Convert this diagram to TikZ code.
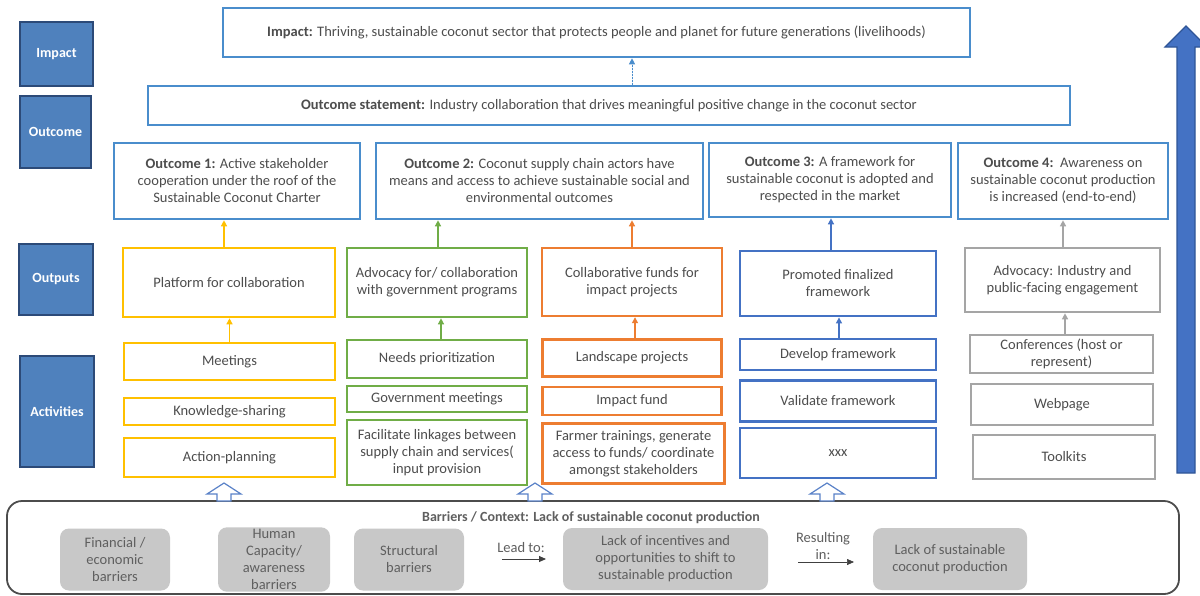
\documentclass[tikz,border=0pt]{standalone}
\usepackage{fontspec}
\setmainfont{Carlito}
\usetikzlibrary{arrows.meta}
\definecolor{txt}{RGB}{77,77,77}
\definecolor{oblue}{RGB}{74,141,204}
\definecolor{lblfill}{RGB}{79,129,189}
\definecolor{lbldraw}{RGB}{44,74,120}
\definecolor{cyel}{RGB}{255,192,0}
\definecolor{cgrn}{RGB}{112,173,71}
\definecolor{corg}{RGB}{237,125,49}
\definecolor{cblu}{RGB}{68,114,196}
\definecolor{cgry}{RGB}{165,165,165}
\definecolor{bgry}{RGB}{200,200,200}
\definecolor{btxt}{RGB}{95,95,95}
\definecolor{bigfill}{RGB}{68,114,196}
\definecolor{bigdraw}{RGB}{47,85,151}
\definecolor{hollow}{RGB}{90,130,200}
\tikzset{
  base/.style={rectangle, inner sep=2pt, align=center, text=txt, font=\fontsize{14.5}{17}\selectfont},
  lbl/.style={rectangle, fill=lblfill, draw=lbldraw, line width=2.5pt, text=white, align=center, font=\fontsize{14}{16}\selectfont\bfseries},
  obox/.style={base, draw=oblue, line width=2.6pt},
  ybox/.style={base, draw=cyel, line width=2.6pt},
  gnbox/.style={base, draw=cgrn, line width=2.6pt},
  orbox/.style={base, draw=corg, line width=2.4pt},
  blbox/.style={base, draw=cblu, line width=2.8pt},
  grbox/.style={base, draw=cgry, line width=2.6pt},
  barbox/.style={base, fill=bgry, rounded corners=9pt, text=btxt, minimum height=62pt},
  plain/.style={base, text=btxt},
  arr/.style={line width=1.3pt, -{Triangle[length=6pt,width=6pt]}},
  barr/.style={line width=0.9pt, draw=black!75, -{Triangle[length=7pt,width=6pt]}},
  hol/.style={draw=hollow, fill=white, line width=1.2pt, line join=miter},
}
\begin{document}
\begin{tikzpicture}[x=1pt,y=-1pt]
\useasboundingbox (0,0) rectangle (1200,595);
\clip (0,0) rectangle (1200,595);
\fill[white] (0,0) rectangle (1200,595);

% left labels
\node[lbl, minimum width=73pt, minimum height=64pt] (L1) at (56.5,54) {Impact};
\node[lbl, minimum width=71pt, minimum height=72pt] (L2) at (55.5,132) {Outcome};
\node[lbl, minimum width=74pt, minimum height=71pt] (L3) at (56,279.5) {Outputs};
\node[lbl, minimum width=74pt, minimum height=111pt] (L4) at (57,411.5) {Activities};

% impact and outcome statement
\node[obox, minimum width=747pt, minimum height=49pt] (IM) at (596.5,32.5) {{\bfseries Impact:} Thriving, sustainable coconut sector that protects people and planet for future generations (livelihoods)};
\node[obox, minimum width=922pt, minimum height=39pt] (OS) at (609,105.5) {{\bfseries Outcome statement:} Industry collaboration that drives meaningful positive change in the coconut sector};

% outcomes
\node[obox, minimum width=246pt, minimum height=76pt] (O1) at (237,181) {{\bfseries Outcome 1:} Active stakeholder\\cooperation under the roof of the\\Sustainable Coconut Charter};
\node[obox, minimum width=327pt, minimum height=76pt] (O2) at (539.5,181) {{\bfseries Outcome 2:} Coconut supply chain actors have\\means and access to achieve sustainable social and\\environmental outcomes};
\node[obox, minimum width=242pt, minimum height=74pt] (O3) at (830,180) {{\bfseries Outcome 3:} A framework for\\sustainable coconut is adopted and\\respected in the market};
\node[obox, minimum width=210pt, minimum height=76pt] (O4) at (1063,181) {{\bfseries Outcome 4:}\ \ Awareness on\\sustainable coconut production\\is increased (end-to-end)};

% outputs
\node[ybox, minimum width=212pt, minimum height=69pt] (P1) at (229,282.5) {Platform for collaboration};
\node[gnbox, minimum width=180pt, minimum height=69pt] (P2) at (437,282.5) {Advocacy for/ collaboration\\with government programs};
\node[orbox, minimum width=180pt, minimum height=68pt] (P3) at (632,282) {Collaborative funds for\\impact projects};
\node[blbox, minimum width=196pt, minimum height=65pt] (P4) at (838,283.5) {Promoted finalized\\framework};
\node[grbox, minimum width=195pt, minimum height=64pt] (P5) at (1062.5,280) {Advocacy: Industry and\\public-facing engagement};

% activities
\node[ybox, minimum width=211pt, minimum height=37pt] (A11) at (229.5,361.5) {Meetings};
\node[ybox, minimum width=211pt, minimum height=27pt] (A12) at (229.5,411.5) {Knowledge-sharing};
\node[ybox, minimum width=211pt, minimum height=39pt] (A13) at (229.5,457.5) {Action-planning};
\node[gnbox, minimum width=180pt, minimum height=38pt] (A21) at (437,359) {Needs prioritization};
\node[gnbox, minimum width=180pt, minimum height=26pt] (A22) at (437,399) {Government meetings};
\node[gnbox, minimum width=180pt, minimum height=65pt] (A23) at (437,452.5) {Facilitate linkages between\\supply chain and services(\\input provision};
\node[orbox, minimum width=179pt, minimum height=37pt] (A31) at (632,358) {Landscape projects};
\node[orbox, minimum width=179pt, minimum height=28pt] (A32) at (632,401) {Impact fund};
\node[orbox, minimum width=182pt, minimum height=60pt] (A33) at (633.5,453.5) {Farmer trainings, generate\\access to funds/ coordinate\\amongst stakeholders};
\node[blbox, minimum width=196pt, minimum height=31pt] (A41) at (838,354.5) {Develop framework};
\node[blbox, minimum width=196pt, minimum height=41pt] (A42) at (838,401) {Validate framework};
\node[blbox, minimum width=196pt, minimum height=50pt] (A43) at (838,453) {xxx};
\node[grbox, minimum width=183pt, minimum height=38pt] (A51) at (1061.5,354) {Conferences (host or\\represent)};
\node[grbox, minimum width=182pt, minimum height=41pt] (A52) at (1062,404.5) {Webpage};
\node[grbox, minimum width=182pt, minimum height=44pt] (A53) at (1064,457) {Toolkits};

% small arrows
\draw[arr, draw=oblue, fill=oblue, line width=1pt, dash pattern=on 2pt off 1pt] ([xshift=23pt]OS.north) -- ([xshift=23pt]OS.north |- IM.south);
\draw[arr, draw=cyel, fill=cyel] ([xshift=-5pt]P1.north) -- ([xshift=-5pt]P1.north |- O1.south);
\draw[arr, draw=cyel, fill=cyel] (A11.north) -- (A11.north |- P1.south);
\draw[arr, draw=cgrn, fill=cgrn] ([xshift=1pt]P2.north) -- ([xshift=1pt]P2.north |- O2.south);
\draw[arr, draw=cgrn, fill=cgrn] ([xshift=4pt]A21.north) -- ([xshift=4pt]A21.north |- P2.south);
\draw[arr, draw=corg, fill=corg] (P3.north) -- (P3.north |- O2.south);
\draw[arr, draw=corg, fill=corg] ([xshift=3pt]A31.north) -- ([xshift=3pt]A31.north |- P3.south);
\draw[arr, draw=cblu, fill=cblu] ([xshift=-7pt]P4.north) -- ([xshift=-7pt]P4.north |- O3.south);
\draw[arr, draw=cblu, fill=cblu] ([xshift=1pt]A41.north) -- ([xshift=1pt]A41.north |- P4.south);
\draw[arr, draw=cgry, fill=cgry] ([xshift=0.5pt]P5.north) -- ([xshift=0.5pt]P5.north |- O4.south);
\draw[arr, draw=cgry, fill=cgry] ([xshift=3.5pt]A51.north) -- ([xshift=3.5pt]A51.north |- P5.south);

% big upward arrow
\draw[fill=bigfill, draw=bigdraw, line width=1.2pt, line join=miter]
  (1177,473) -- (1177,47) -- (1165,47) -- (1186,26) -- (1207,47) -- (1195,47) -- (1195,473) -- cycle;

% barrier box
\draw[line width=1.8pt, draw=black!70, rounded corners=15pt] (7,501) rectangle (1179,594);
\node[font=\fontsize{14}{16.5}\selectfont\bfseries, text=btxt] (BT) at (591,518) {Barriers / Context: Lack of sustainable coconut production};

% hollow arrows
\foreach \c in {224,535,827}{
  \draw[hol] (\c,483) -- (\c+17,494) -- (\c+7,494) -- (\c+7,501) -- (\c-7,501) -- (\c-7,494) -- (\c-17,494) -- cycle;
}

% barrier items
\node[barbox, minimum width=110pt] (B1) at (115,559.5) {Financial /\\economic\\barriers};
\node[barbox, minimum width=112pt] (B2) at (274,559.5) {Human\\Capacity/\\awareness\\barriers};
\node[barbox, minimum width=110pt] (B3) at (409,559.5) {Structural\\barriers};
\node[barbox, minimum width=205pt] (B4) at (665.5,559) {Lack of incentives and\\opportunities to shift to\\sustainable production};
\node[barbox, minimum width=154pt] (B5) at (950,559) {Lack of sustainable\\coconut production};
\node[plain] (LT) at (521,548) {Lead to:};
\node[plain] (RI) at (823,546.5) {Resulting\\in:};
\coordinate (la1) at (502,559);
\coordinate (la2) at (546,559);
\coordinate (ra1) at (798,562);
\coordinate (ra2) at (854,562);
\draw[barr] (la1) -- (la2);
\draw[barr, line width=0.6pt] (ra1) -- (ra2);
\end{tikzpicture}
\end{document}
